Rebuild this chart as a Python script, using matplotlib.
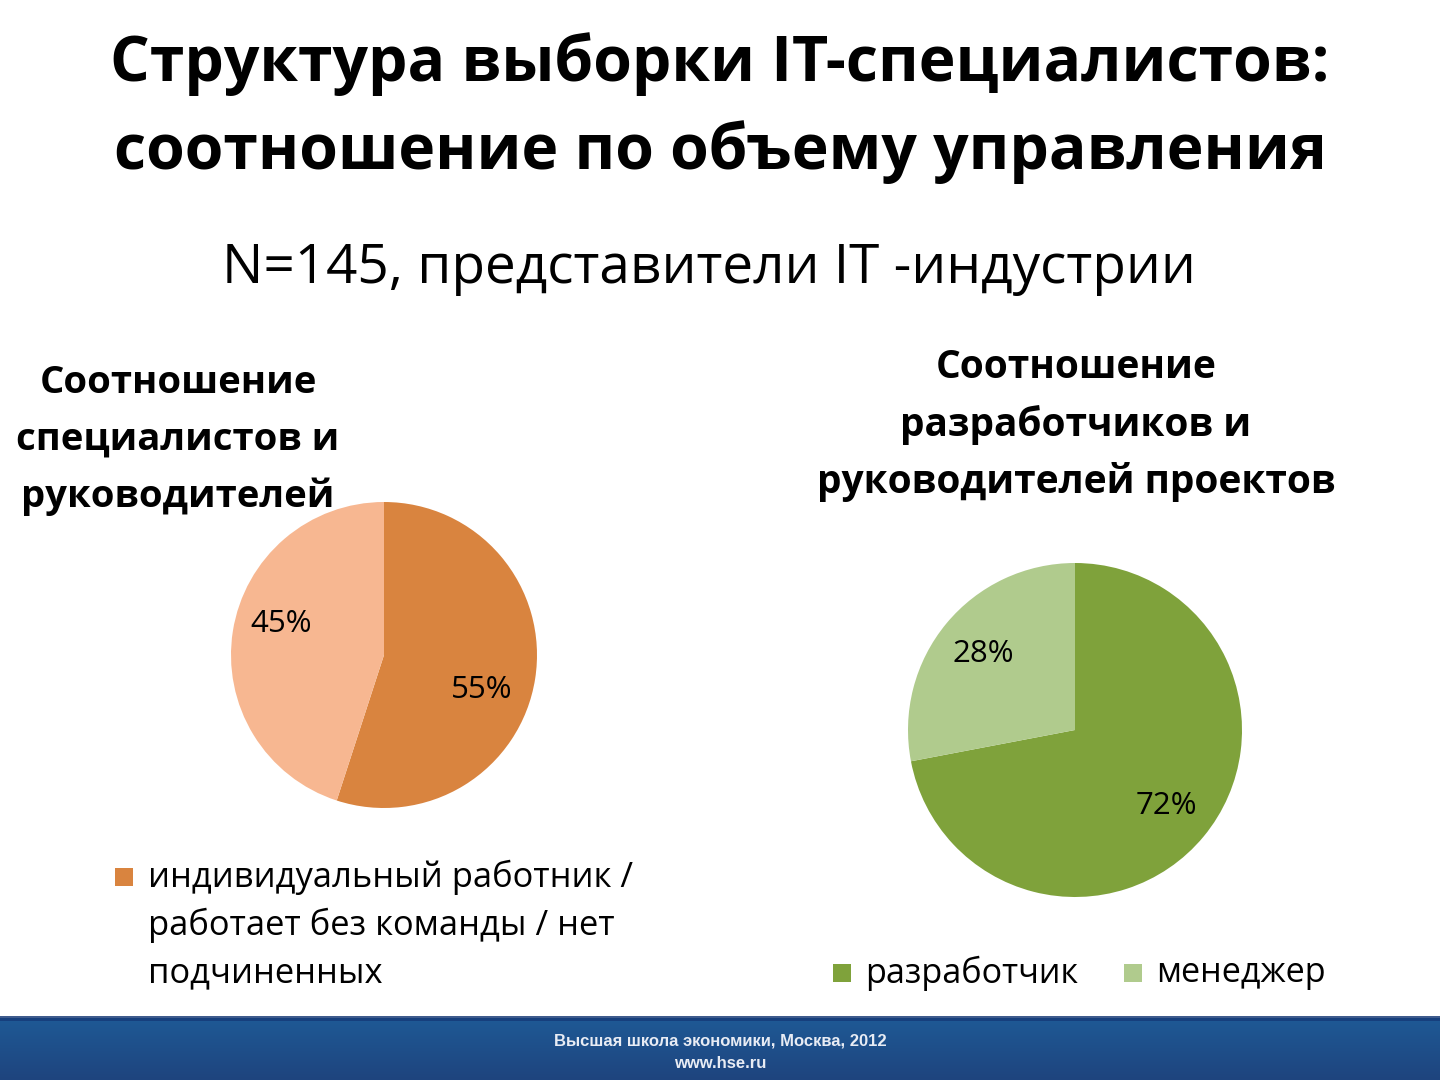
import matplotlib
matplotlib.use("Agg")
import matplotlib.pyplot as plt
import numpy as np
from matplotlib.patches import Rectangle

plt.rcParams['font.family'] = ['Open Sans', 'DejaVu Sans']

title = "Структура выборки IT-специалистов:\nсоотношение по объему управления"
subtitle = "N=145, представители IT -индустрии"

left_title = "Соотношение\nспециалистов и\nруководителей"
left_labels = ["индивидуальный работник /\nработает без команды / нет\nподчиненных", "руководитель"]
left_values = [55, 45]
left_colors = ["#D9843F", "#F7B791"]

right_title = "Соотношение\nразработчиков и\nруководителей проектов"
right_labels = ["разработчик", "менеджер"]
right_values = [72, 28]
right_colors = ["#7FA23B", "#B0CB8D"]

footer1 = "Высшая школа экономики, Москва, 2012"
footer2 = "www.hse.ru"

W, H = 1440, 1080
fig = plt.figure(figsize=(14.4, 10.8), dpi=100)
fig.patch.set_facecolor("white")

def fx(x): return x / W
def fy(y): return 1 - y / H

# titles
for i, line in enumerate(title.split("\n")):
    fig.text(fx(720), fy(64 + 88 * i), line, ha="center", va="center",
             fontsize=45, fontweight="bold")
fig.text(fx(709), fy(268), subtitle, ha="center", va="center", fontsize=39.5)

# chart titles
for i, line in enumerate(left_title.split("\n")):
    fig.text(fx(178), fy(383 + 57 * i), line, ha="center", va="center",
             fontsize=27.5, fontweight="bold")
for i, line in enumerate(right_title.split("\n")):
    fig.text(fx(1076), fy(368 + 57 * i), line, ha="center", va="center",
             fontsize=28, fontweight="bold")

def pie_axes(cx, cy, r):
    ax = fig.add_axes([fx(cx - r), fy(cy + r), 2 * r / W, 2 * r / H])
    ax.axis("off")
    return ax

# left pie
axl = pie_axes(384, 655, 153)
_, tl = axl.pie(left_values, colors=left_colors, startangle=90, counterclock=False, radius=1,
                autopct="%d%%", pctdistance=0.68,
                textprops=dict(fontsize=22.5, color="black"),
                wedgeprops=dict(linewidth=0))[:2], None
axl.set_xlim(-1, 1); axl.set_ylim(-1, 1)
texts_l = [t for t in axl.texts if t.get_text().endswith("%")]
texts_l[0].set_position((0.64, -0.23))
texts_l[1].set_position((-0.67, 0.20))

# right pie
axr = pie_axes(1075, 730, 167)
axr.pie(right_values, colors=right_colors, startangle=90, counterclock=False, radius=1,
        autopct="%d%%", pctdistance=0.71,
        textprops=dict(fontsize=22.5, color="black"),
        wedgeprops=dict(linewidth=0))
axr.set_xlim(-1, 1); axr.set_ylim(-1, 1)

# legends (drawn manually)
fig.patches.append(Rectangle((fx(115), fy(886)), 18 / W, 18 / H, transform=fig.transFigure,
                             facecolor=left_colors[0], edgecolor="none"))
for i, line in enumerate(left_labels[0].split("\n")):
    fig.text(fx(148), fy(877 + 48 * i), line, ha="left", va="center", fontsize=24.8)

for x0, lab, col in zip([833, 1124], right_labels, right_colors):
    fig.patches.append(Rectangle((fx(x0), fy(982)), 18 / W, 18 / H, transform=fig.transFigure,
                                 facecolor=col, edgecolor="none"))
    fig.text(fx(x0 + 32), fy(973), lab, ha="left", va="center", fontsize=24.6)

# footer band
axf = fig.add_axes([0, 0, 1, fy(1016)])
axf.axis("off")
grad = np.linspace(0, 1, 100)[:, None]
c_top = np.array([0x1F, 0x5A, 0x96]) / 255
c_bot = np.array([0x1E, 0x44, 0x7E]) / 255
img = (c_top[None, None, :] * (1 - grad[:, :, None]) + c_bot[None, None, :] * grad[:, :, None])
axf.imshow(img, aspect="auto", extent=[0, 1, 0, 1])
axf.set_xlim(0, 1); axf.set_ylim(0, 1)
fig.patches.append(Rectangle((0, fy(1021)), 1, 5 / H, transform=fig.transFigure,
                             facecolor="#163F7D", edgecolor="none"))
fig.patches.append(Rectangle((0, fy(1018)), 1, 2 / H, transform=fig.transFigure,
                             facecolor="#3E5B8D", edgecolor="none"))
fig.text(fx(720), fy(1041), footer1, ha="center", va="center", fontsize=12, fontweight="bold",
         color="#E8ECF4", family=["Liberation Sans Narrow", "Liberation Sans", "DejaVu Sans"])
fig.text(fx(720), fy(1064), footer2, ha="center", va="center", fontsize=12, fontweight="bold",
         color="#E8ECF4", family=["Liberation Sans Narrow", "Liberation Sans", "DejaVu Sans"])

fig.savefig("out.png", dpi=100, facecolor="white")
